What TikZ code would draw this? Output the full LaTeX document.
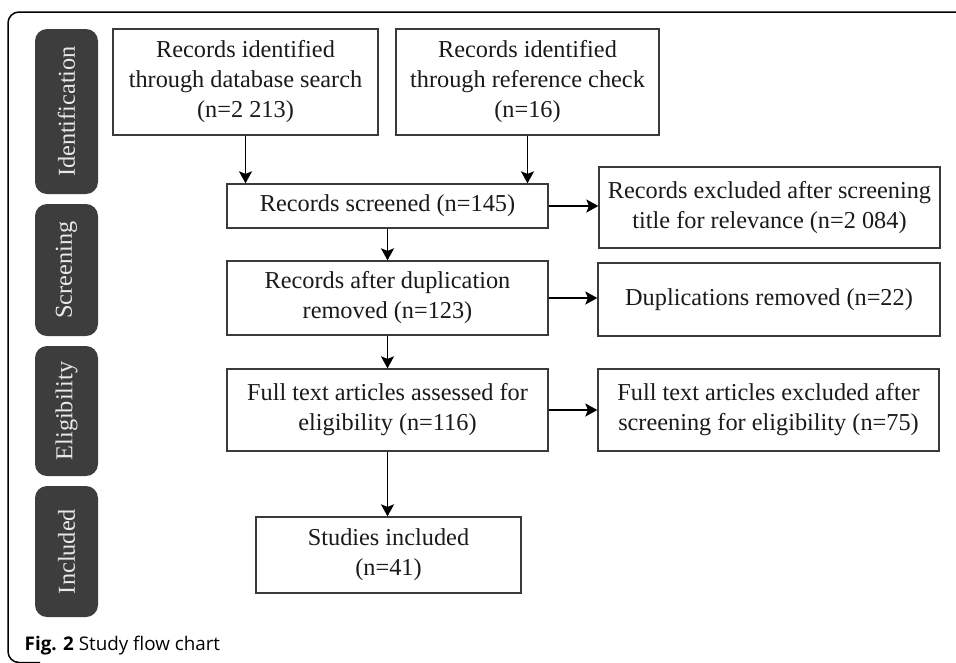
\documentclass[tikz,border=0pt]{standalone}
\usepackage{fontspec}
\setmainfont{Liberation Serif}
\newfontfamily\capfont{Open Sans}
\usetikzlibrary{arrows.meta}
\definecolor{boxline}{HTML}{3A3A3A}
\definecolor{boxtext}{HTML}{1A1A1A}
\definecolor{stagefill}{HTML}{3D3D3D}
\definecolor{stagetext}{HTML}{E8E8E8}
\tikzset{
  flowbox/.style={draw=boxline, line width=1.3pt, fill=white, align=center, text=boxtext,
    inner sep=2pt, font=\fontsize{24.3}{30}\selectfont},
  stage/.style={fill=stagefill, rounded corners=12pt, rotate=90, text=stagetext,
    inner sep=0pt, font=\fontsize{24.3}{28}\selectfont},
  arr/.style={draw=black, line width=1.8pt, -{Stealth[length=12pt,width=13pt,inset=2.5pt]}},
  frame/.style={draw=black, line width=1.5pt, rounded corners=11pt}
}
\begin{document}
\begin{tikzpicture}[x=1pt,y=-1pt]
\useasboundingbox (0,0) rectangle (956,662);
% outer frame
\draw[frame] (970,12) -- (8,12) -- (8,662.5) -- (40,662.5);
% stage labels
\node[stage, minimum width=165pt, minimum height=63pt] (sid) at (66.5,111.5) {Identification};
\node[stage, minimum width=132pt, minimum height=63pt] (ssc) at (66.5,270) {Screening};
\node[stage, minimum width=130pt, minimum height=63pt] (sel) at (66.5,411) {Eligibility};
\node[stage, minimum width=131pt, minimum height=63pt] (sin) at (66.5,551.5) {Included};
% boxes
\node[flowbox, minimum width=265pt, minimum height=106pt] (db) at (245.5,82) {Records identified\\through database search\\(n=2 213)};
\node[flowbox, minimum width=263pt, minimum height=106pt] (ref) at (527.5,82) {Records identified\\through reference check\\(n=16)};
\node[flowbox, minimum width=321pt, minimum height=44pt] (scr) at (387.5,206) {Records screened (n=145)};
\node[flowbox, minimum width=341pt, minimum height=81pt] (exc) at (769.5,207.5) {Records excluded after screening\\title for relevance (n=2 084)};
\node[flowbox, minimum width=321pt, minimum height=74pt] (dup) at (387.5,298) {Records after duplication\\removed (n=123)};
\node[flowbox, minimum width=342pt, minimum height=73pt] (drm) at (769,299.5) {Duplications removed (n=22)};
\node[flowbox, minimum width=321pt, minimum height=82pt] (ful) at (387.5,410) {Full text articles assessed for\\eligibility (n=116)};
\node[flowbox, minimum width=341pt, minimum height=82pt] (fex) at (768.5,410) {Full text articles excluded after\\screening for eligibility (n=75)};
\node[flowbox, minimum width=265pt, minimum height=76pt] (stu) at (388.5,555) {Studies included\\(n=41)};
% arrows
\draw[arr] (db.south) -- (db.south |- scr.north);
\draw[arr] (ref.south) -- (ref.south |- scr.north);
\draw[arr] (scr.east) -- (scr.east -| exc.west);
\draw[arr] (scr.south) -- (dup.north);
\draw[arr] (dup.east) -- (dup.east -| drm.west);
\draw[arr] (dup.south) -- (ful.north);
\draw[arr] (ful.east) -- (ful.east -| fex.west);
\draw[arr] (ful.south) -- (ful.south |- stu.north);
% caption
\node[anchor=base west, inner sep=0pt, font=\capfont\fontsize{18.8}{22}\selectfont, text=black] (cap) at (24.5,650) {\textbf{Fig. 2} Study flow chart};
\end{tikzpicture}
\end{document}
